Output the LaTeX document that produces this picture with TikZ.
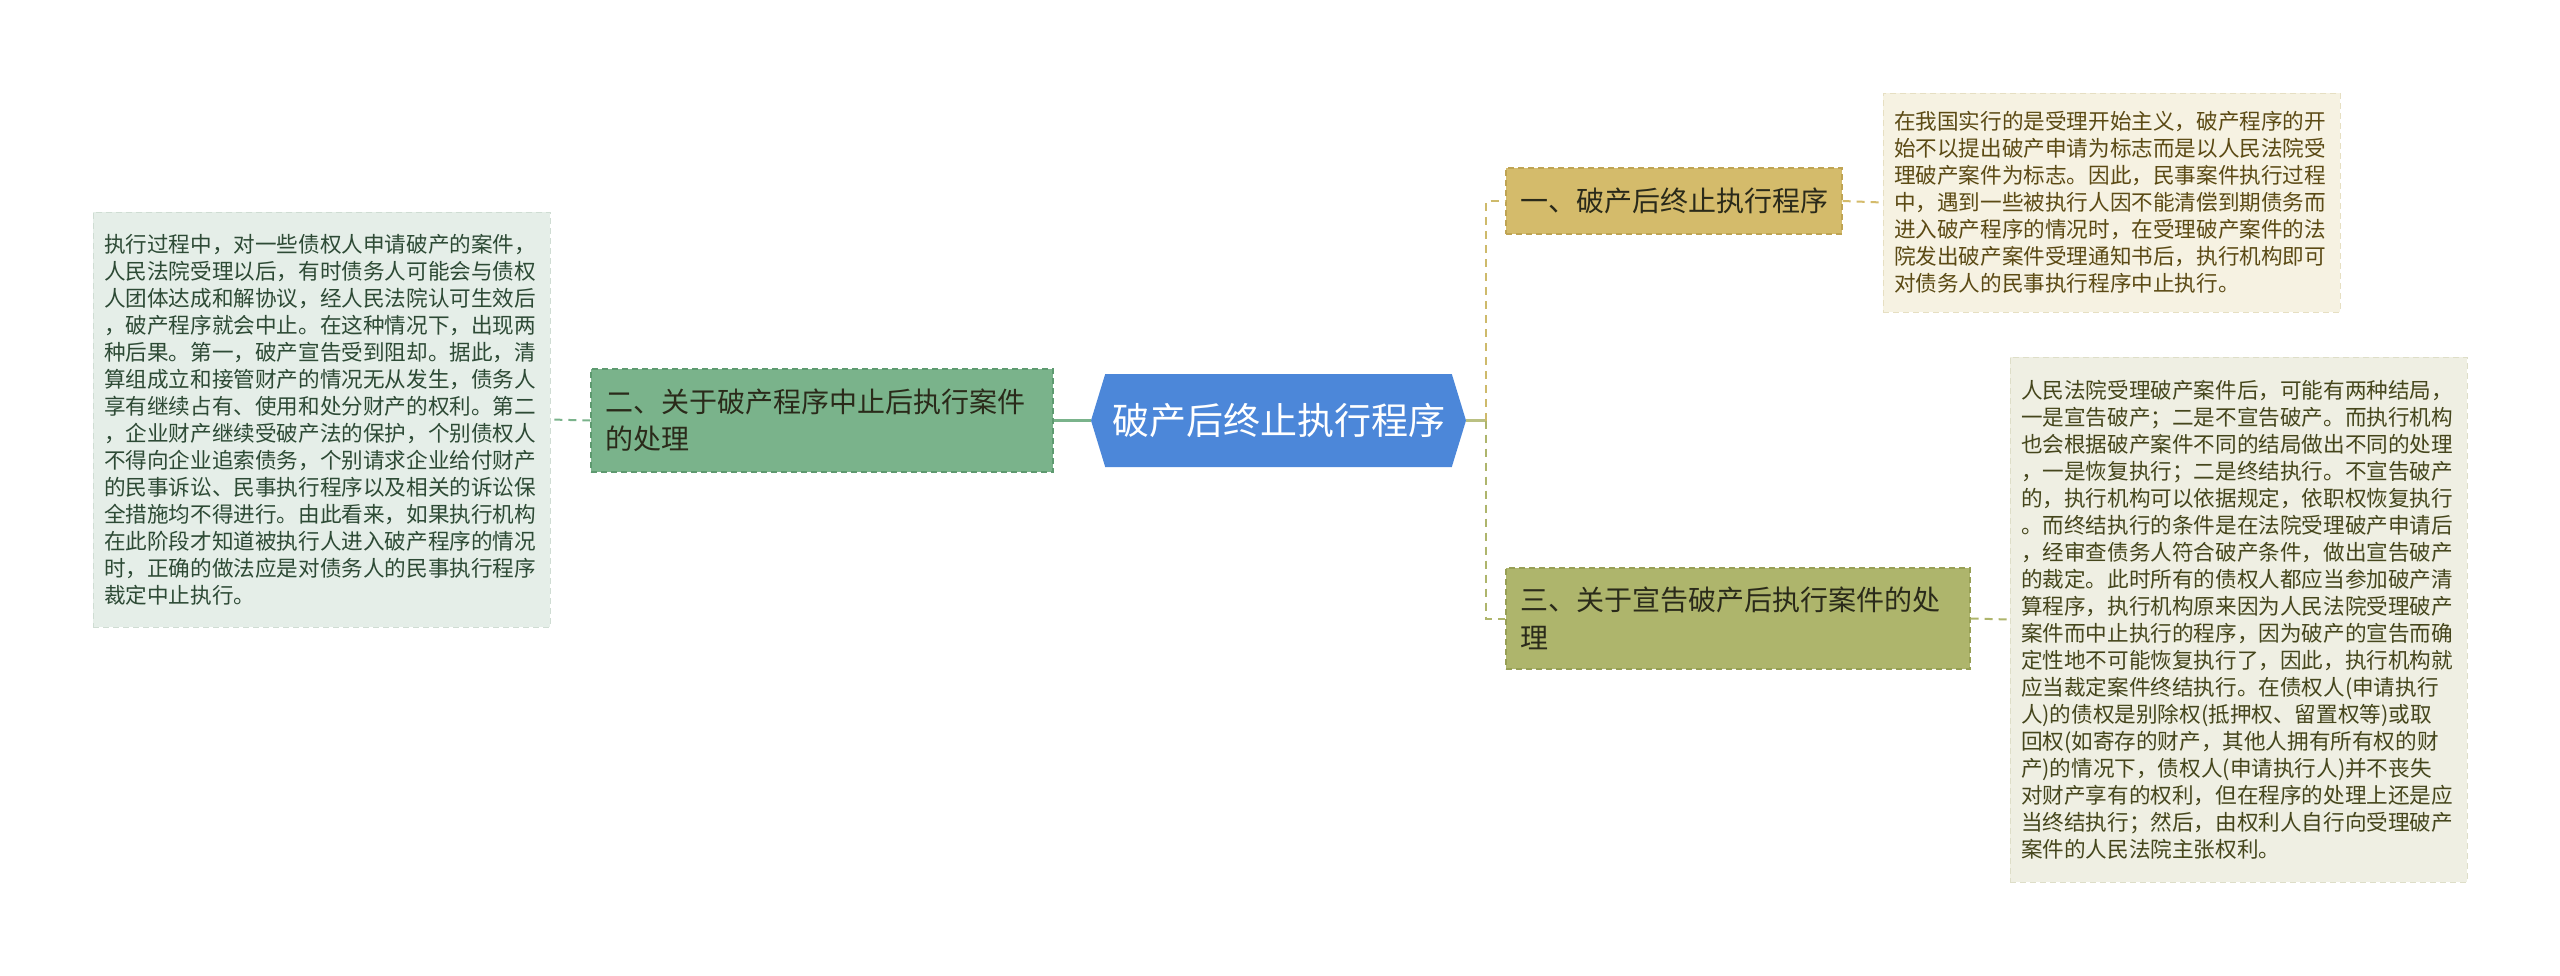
\documentclass[tikz,border=0pt]{standalone}
\usepackage{fontspec}
\setmainfont{Noto Sans CJK SC}
\usetikzlibrary{shapes.symbols}
\definecolor{cblue}{HTML}{4C87D9}
\definecolor{bgreen}{HTML}{7AB38B}
\definecolor{bgreenD}{HTML}{5E9A70}
\definecolor{bgold}{HTML}{D4BB6B}
\definecolor{bgoldD}{HTML}{BFA453}
\definecolor{bolive}{HTML}{AEB56C}
\definecolor{boliveD}{HTML}{979F55}
\definecolor{tgreen}{HTML}{E5EEE8}
\definecolor{tgreenD}{HTML}{CFDDD3}
\definecolor{tcream}{HTML}{F6F2E2}
\definecolor{tcreamD}{HTML}{E6DFC2}
\definecolor{tgrey}{HTML}{EFEFE3}
\definecolor{tgreyD}{HTML}{DEDEC8}
\definecolor{txgreen}{HTML}{2D4A35}
\definecolor{txbrown}{HTML}{5B4A14}
\definecolor{txolive}{HTML}{45461C}
\definecolor{txdark}{HTML}{2A2A1A}
\begin{document}
\begin{tikzpicture}[x=1pt,y=-1pt,
  branchbox/.style={draw, dash pattern=on 6pt off 4pt, line width=1.4pt, inner xsep=14pt, inner ysep=0pt, align=left, text=txdark, font=\fontsize{28}{37.5}\selectfont},
  notebox/.style={draw, dash pattern=on 6pt off 4pt, line width=1pt, inner xsep=11pt, inner ysep=0pt, align=left, text width=435pt, font=\fontsize{21.6}{27}\selectfont},
  link/.style={line width=2.2pt},
  dlink/.style={line width=2pt, dash pattern=on 8pt off 6pt}]
\fill[white] (0,0) rectangle (2560,975);
\useasboundingbox (0,0) rectangle (2560,975);

% center
\node[signal, signal to=west and east, signal pointer angle=146, fill=cblue, text=white,
  minimum width=375pt, minimum height=93pt, inner sep=0pt,
  font=\fontsize{37}{44}\selectfont] (c) at (1278.5,420.5) {破产后终止执行程序};

% branches
\node[branchbox, fill=bgreen, draw=bgreenD, text width=434pt, minimum height=103pt] (b2) at (822,420.5)
  {二、关于破产程序中止后执行案件\\的处理};
\node[branchbox, fill=bgold, draw=bgoldD, text width=308pt, minimum height=66pt] (b1) at (1674,201)
  {一、破产后终止执行程序};
\node[branchbox, fill=bolive, draw=boliveD, text width=436pt, minimum height=101pt] (b3) at (1738,618.5)
  {三、关于宣告破产后执行案件的处\\理};

% notes
\node[notebox, fill=tgreen, draw=tgreenD, text=txgreen, minimum height=415pt] (t2) at (321.5,419.5)
  {执行过程中，对一些债权人申请破产的案件，\\
   人民法院受理以后，有时债务人可能会与债权\\
   人团体达成和解协议，经人民法院认可生效后\\
   ，破产程序就会中止。在这种情况下，出现两\\
   种后果。第一，破产宣告受到阻却。据此，清\\
   算组成立和接管财产的情况无从发生，债务人\\
   享有继续占有、使用和处分财产的权利。第二\\
   ，企业财产继续受破产法的保护，个别债权人\\
   不得向企业追索债务，个别请求企业给付财产\\
   的民事诉讼、民事执行程序以及相关的诉讼保\\
   全措施均不得进行。由此看来，如果执行机构\\
   在此阶段才知道被执行人进入破产程序的情况\\
   时，正确的做法应是对债务人的民事执行程序\\
   裁定中止执行。};
\node[notebox, fill=tcream, draw=tcreamD, text=txbrown, minimum height=219pt] (t1) at (2111.5,202.5)
  {在我国实行的是受理开始主义，破产程序的开\\
   始不以提出破产申请为标志而是以人民法院受\\
   理破产案件为标志。因此，民事案件执行过程\\
   中，遇到一些被执行人因不能清偿到期债务而\\
   进入破产程序的情况时，在受理破产案件的法\\
   院发出破产案件受理通知书后，执行机构即可\\
   对债务人的民事执行程序中止执行。};
\node[notebox, fill=tgrey, draw=tgreyD, text=txolive, minimum height=525pt] (t3) at (2238.5,619.5)
  {人民法院受理破产案件后，可能有两种结局，\\
   一是宣告破产；二是不宣告破产。而执行机构\\
   也会根据破产案件不同的结局做出不同的处理\\
   ，一是恢复执行；二是终结执行。不宣告破产\\
   的，执行机构可以依据规定，依职权恢复执行\\
   。而终结执行的条件是在法院受理破产申请后\\
   ，经审查债务人符合破产条件，做出宣告破产\\
   的裁定。此时所有的债权人都应当参加破产清\\
   算程序，执行机构原来因为人民法院受理破产\\
   案件而中止执行的程序，因为破产的宣告而确\\
   定性地不可能恢复执行了，因此，执行机构就\\
   应当裁定案件终结执行。在债权人(申请执行\\
   人)的债权是别除权(抵押权、留置权等)或取\\
   回权(如寄存的财产，其他人拥有所有权的财\\
   产)的情况下，债权人(申请执行人)并不丧失\\
   对财产享有的权利，但在程序的处理上还是应\\
   当终结执行；然后，由权利人自行向受理破产\\
   案件的人民法院主张权利。};

% connectors
\coordinate (j) at (1486,420.5);
\draw[link, draw=bgreen] (c.west) -- (b2.east);
\draw[dlink, draw=bgreen] (b2.west) -- (t2.east);
\draw[link, draw=bolive!85] (c.east) -- (j);
\draw[dlink, draw=bgold!85!bolive] (j) |- (b1.west);
\draw[dlink, draw=bolive] (j) |- (b3.west);
\draw[dlink, draw=bgold] (b1.east) -- (t1.west);
\draw[dlink, draw=bolive] (b3.east) -- (t3.west);
\end{tikzpicture}
\end{document}
